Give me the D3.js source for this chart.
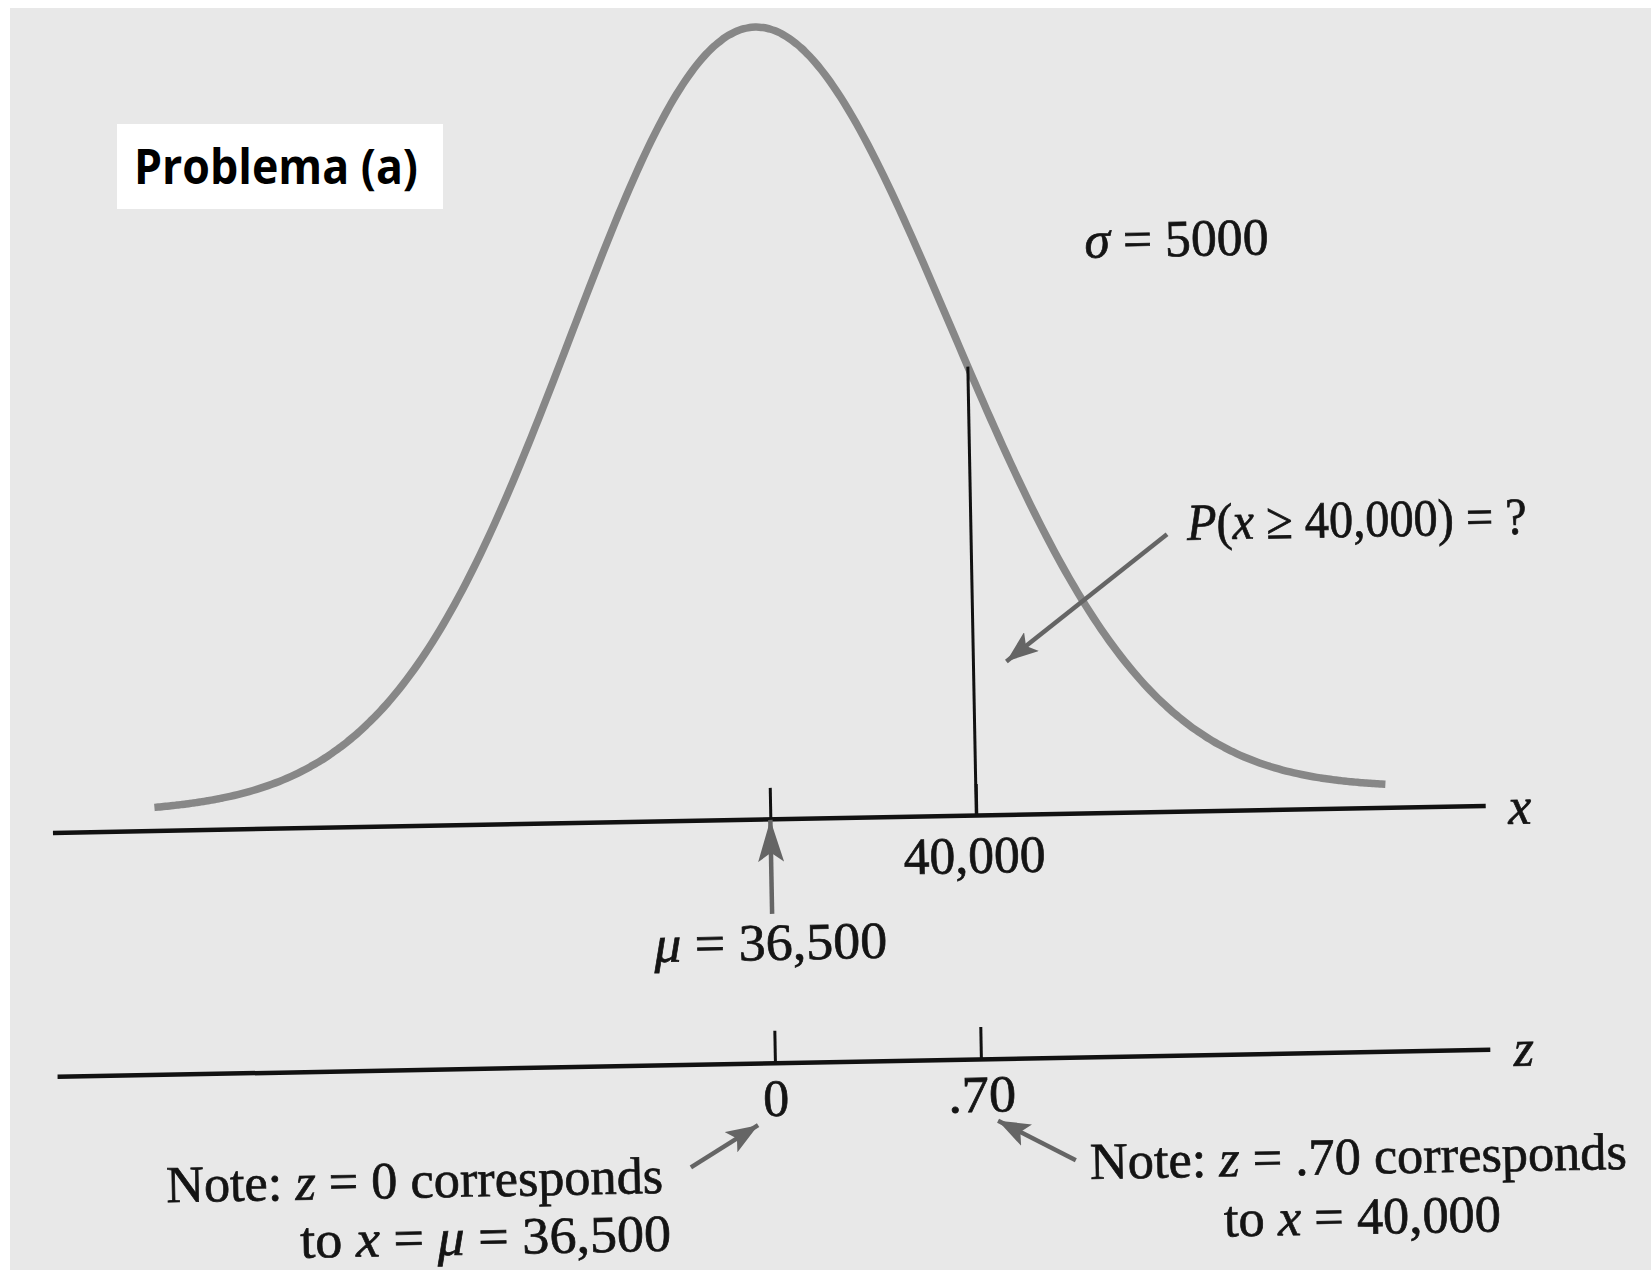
<!DOCTYPE html>
<html>
<head>
<meta charset="utf-8">
<script src="https://cdn.jsdelivr.net/npm/d3@7"></script>
<style>
  html, body { margin: 0; padding: 0; background: #fff; }
  svg { display: block; }
  .serif { font-family: "Liberation Serif", "DejaVu Serif", serif; fill: #141414; stroke: #141414; stroke-width: 0.7px; font-size: 52px; }
</style>
</head>
<body>
<div id="chart"></div>
<script>
var width = 1651;
var height = 1270;

// distribution of the problem
var mu = 36500;
var sigma = 5000;
var xValue = 40000;

// tick values and labels
var xTicks = [36500, 40000];
var xTickLabels = ['', '40,000'];
var zTicks = [0, 0.70];
var zTickLabels = ['0', '.70'];

// text pieces, italic where flagged
var sigmaLabel = [{t: 'σ', i: 1}, {t: ' = 5000'}];
var probLabel = [{t: 'P', i: 1}, {t: '('}, {t: 'x', i: 1}, {t: ' ≥ 40,000) = ?'}];
var muLabel = [{t: 'μ', i: 1}, {t: ' = 36,500'}];
var noteLeft1 = [{t: 'Note: '}, {t: 'z', i: 1}, {t: ' = 0 corresponds'}];
var noteLeft2 = [{t: 'to '}, {t: 'x', i: 1}, {t: ' = '}, {t: 'μ', i: 1}, {t: ' = 36,500'}];
var noteRight1 = [{t: 'Note: '}, {t: 'z', i: 1}, {t: ' = .70 corresponds'}];
var noteRight2 = [{t: 'to '}, {t: 'x', i: 1}, {t: ' = 40,000'}];

var svg = d3.select('#chart')
  .append('svg')
  .attr('width', width)
  .attr('height', height);

// scanned page background
svg.append('rect')
  .attr('x', 10).attr('y', 8)
  .attr('width', width - 10).attr('height', height - 8)
  .attr('fill', '#e8e8e8');

var defs = svg.append('defs');
defs.append('marker')
  .attr('id', 'head')
  .attr('viewBox', '0 -12 32 24')
  .attr('refX', 32).attr('refY', 0)
  .attr('markerUnits', 'userSpaceOnUse')
  .attr('markerWidth', 32).attr('markerHeight', 24)
  .attr('orient', 'auto')
  .append('path')
  .attr('d', 'M0,-12L32,0L0,12L7,0Z')
  .attr('fill', '#656565');
defs.append('marker')
  .attr('id', 'bighead')
  .attr('viewBox', '0 -13 42 26')
  .attr('refX', 42).attr('refY', 0)
  .attr('markerUnits', 'userSpaceOnUse')
  .attr('markerWidth', 42).attr('markerHeight', 26)
  .attr('orient', 'auto')
  .append('path')
  .attr('d', 'M0,-13L42,0L0,13L9,0Z')
  .attr('fill', '#656565');

// the scanned figure sits slightly tilted
var g = svg.append('g')
  .attr('transform', 'rotate(-1.08, 760, 430)');

var axisLeft = 45, axisRight = 1478;
var xAxisY = 819, zAxisY = 1063;

// x position scale: mu and 40,000 on the axis
var x = d3.scaleLinear().domain([mu, xValue]).range([763, 969]);
var xAxisScale = x.copy()
  .domain([x.invert(axisLeft), x.invert(axisRight)])
  .range([axisLeft, axisRight]);
var zAxisScale = d3.scaleLinear()
  .domain([(xAxisScale.domain()[0] - mu) / sigma, (xAxisScale.domain()[1] - mu) / sigma])
  .range([axisLeft, axisRight]);

// bell curve
var pdf = function(v) {
  return Math.exp(-0.5 * Math.pow((v - mu) / sigma, 2)) / (sigma * Math.sqrt(2 * Math.PI));
};
var curveSpread = 190; // drawn px per sigma of the bell
var curveX = d3.scaleLinear()
  .domain([mu - sigma, mu + sigma])
  .range([x(mu) - curveSpread, x(mu) + curveSpread]);
var y = d3.scaleLinear().domain([0, pdf(mu)]).range([800, 27]);

var curveData = d3.range(-3.24, 3.2401, 0.02).map(function(k) {
  var v = mu + k * sigma;
  return [v, pdf(v)];
});

g.append('path')
  .datum(curveData)
  .attr('fill', 'none')
  .attr('stroke', '#878787')
  .attr('stroke-width', 7.5)
  .attr('stroke-linecap', 'butt')
  .attr('d', d3.line()
    .x(function(d) { return curveX(d[0]); })
    .y(function(d) { return y(d[1]); })
    .curve(d3.curveBasis));

// vertical line at 40,000 up to the curve
var lineTop = y(pdf(curveX.invert(x(xValue))));
g.append('line')
  .attr('x1', x(xValue)).attr('x2', x(xValue))
  .attr('y1', lineTop).attr('y2', xAxisY)
  .attr('stroke', '#111')
  .attr('stroke-width', 3);

// x axis
var xAxis = d3.axisBottom(xAxisScale)
  .tickValues(xTicks)
  .tickSize(-31)
  .tickSizeOuter(0)
  .tickPadding(21)
  .tickFormat(function(d, i) { return xTickLabels[i]; });
var xAxisG = g.append('g')
  .attr('transform', 'translate(0,' + xAxisY + ')')
  .call(xAxis);

// z axis
var zAxis = d3.axisBottom(zAxisScale)
  .tickValues(zTicks)
  .tickSize(-32)
  .tickSizeOuter(0)
  .tickPadding(16)
  .tickFormat(function(d, i) { return zTickLabels[i]; });
var zAxisG = g.append('g')
  .attr('transform', 'translate(0,' + zAxisY + ')')
  .call(zAxis);

[xAxisG, zAxisG].forEach(function(ax) {
  ax.select('.domain').attr('stroke', '#111').attr('stroke-width', 4.5);
  ax.selectAll('.tick line').attr('stroke', '#111').attr('stroke-width', 3);
  ax.selectAll('.tick text')
    .attr('class', 'serif')
    .attr('font-family', null)
    .attr('font-size', null)
    .attr('fill', null);
});
xAxisG.selectAll('.tick text').attr('dx', -3)
  .filter(function(d) { return d === xValue; })
  .attr('textLength', 142).attr('lengthAdjust', 'spacingAndGlyphs');
zAxisG.selectAll('.tick text')
  .filter(function(d) { return d === zTicks[1]; })
  .attr('textLength', 68).attr('lengthAdjust', 'spacingAndGlyphs');

// axis names
g.append('text').attr('class', 'serif').attr('font-style', 'italic')
  .attr('x', axisRight + 23).attr('y', xAxisY + 19).text('x');
g.append('text').attr('class', 'serif').attr('font-style', 'italic')
  .attr('x', axisRight + 24).attr('y', zAxisY + 17).text('z');

function addLabel(pieces, px, py, len, anchor) {
  var t = g.append('text')
    .attr('class', 'serif')
    .attr('x', px).attr('y', py)
    .attr('text-anchor', anchor || 'start')
    .attr('textLength', len)
    .attr('lengthAdjust', 'spacingAndGlyphs');
  pieces.forEach(function(p) {
    t.append('tspan')
      .attr('font-style', p.i ? 'italic' : 'normal')
      .text(p.t);
  });
  return t;
}

addLabel(sigmaLabel, 1088, 264, 184);
addLabel(probLabel, 1185, 548, 340);
addLabel(muLabel, x(mu) - 2, 960, 233, 'middle');
addLabel(noteLeft1, 152, 1191, 497);
addLabel(noteLeft2, 285, 1249, 371);
addLabel(noteRight1, 1076, 1185, 537);
addLabel(noteRight2, 1209, 1245, 277);

// arrows
function arrow(x1, y1, x2, y2, head) {
  g.append('line')
    .attr('x1', x1).attr('y1', y1)
    .attr('x2', x2).attr('y2', y2)
    .attr('stroke', '#656565')
    .attr('stroke-width', 4.5)
    .attr('marker-end', 'url(#' + head + ')');
}
arrow(x(mu), 914, x(mu), xAxisY + 1, 'bighead');
arrow(x(xValue) + 196, 542, x(xValue) + 33, 666, 'head');
arrow(677, 1166, zAxisScale(zTicks[0]) - 18, 1125, 'head');
arrow(1062, 1166, zAxisScale(zTicks[1]) + 16, 1125, 'head');

// overlay title box (not part of the tilted scan)
svg.append('rect')
  .attr('x', 117).attr('y', 124)
  .attr('width', 326).attr('height', 85)
  .attr('fill', '#fff');
svg.append('text')
  .attr('x', 134).attr('y', 184)
  .attr('font-family', '"Open Sans", sans-serif')
  .attr('font-weight', 700)
  .attr('font-size', 48)
  .attr('textLength', 284)
  .attr('lengthAdjust', 'spacingAndGlyphs')
  .attr('fill', '#000')
  .text('Problema (a)');
</script>
</body>
</html>
